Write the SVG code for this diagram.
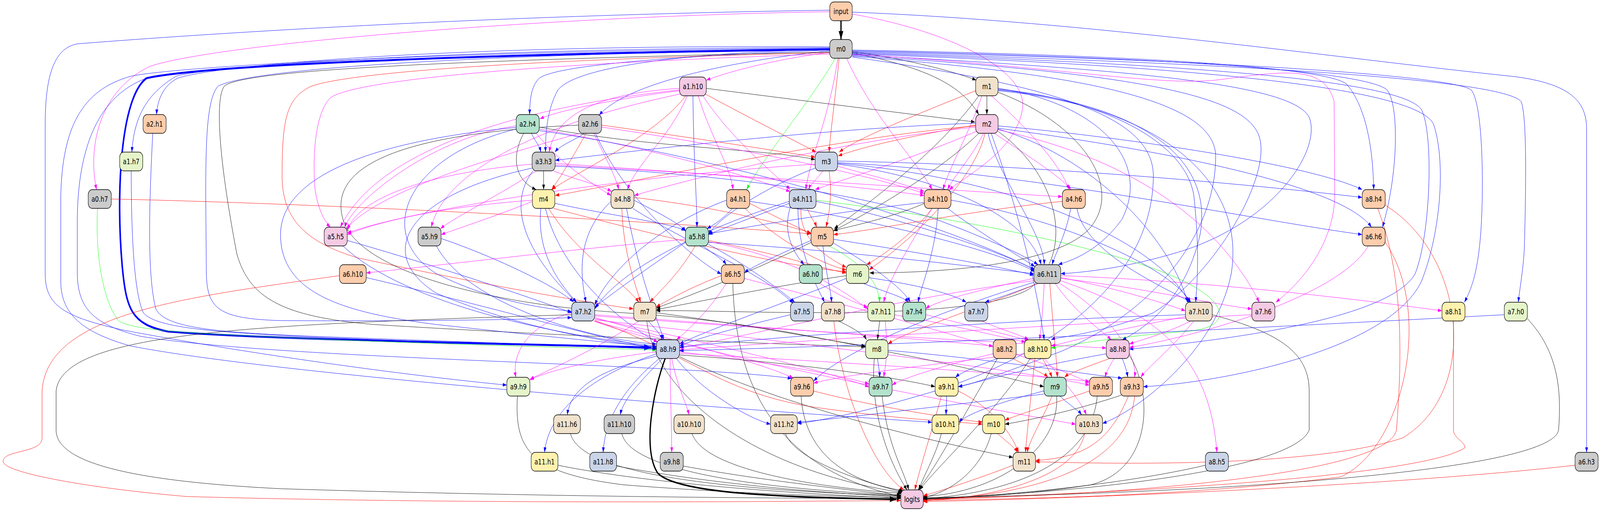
<svg xmlns="http://www.w3.org/2000/svg" width="5133" height="1307" viewBox="0 0 5133 1307" preserveAspectRatio="none">
<style>
svg{width:100%;height:100%}
#edges path{fill:none;stroke-width:1}
#edges .b{stroke:#0000ff;marker-end:url(#mb)}
#edges .r{stroke:#ff0000;marker-end:url(#mr)}
#edges .p{stroke:#ff00ff;marker-end:url(#mp)}
#edges .k{stroke:#000000;marker-end:url(#mk)}
#edges .g{stroke:#00ff00;marker-end:url(#mg)}
#edges .kT{stroke:#000000;stroke-width:4;marker-end:url(#mkT)}
#edges .bT{stroke:#0000ff;stroke-width:5;marker-end:url(#mbT)}
.node rect{stroke:#000;stroke-width:1.3}
.node text{font-family:"DejaVu Sans","Liberation Sans",sans-serif;font-size:18.67px;text-anchor:middle;fill:#000}
.c1{fill:#fdcdac}.c2{fill:#cccccc}.c3{fill:#b3e2cd}.c4{fill:#cbd5e8}.c5{fill:#f4cae4}.c6{fill:#e6f5c9}.c7{fill:#fff2ae}.c8{fill:#f1e2cc}
</style>
<defs>
<marker id="mb" viewBox="0 0 10 7" refX="10" refY="3.5" markerWidth="13" markerHeight="9" markerUnits="userSpaceOnUse" orient="auto"><path d="M0,0L10,3.5L0,7z" fill="#0000ff"/></marker>
<marker id="mr" viewBox="0 0 10 7" refX="10" refY="3.5" markerWidth="13" markerHeight="9" markerUnits="userSpaceOnUse" orient="auto"><path d="M0,0L10,3.5L0,7z" fill="#ff0000"/></marker>
<marker id="mp" viewBox="0 0 10 7" refX="10" refY="3.5" markerWidth="13" markerHeight="9" markerUnits="userSpaceOnUse" orient="auto"><path d="M0,0L10,3.5L0,7z" fill="#ff00ff"/></marker>
<marker id="mk" viewBox="0 0 10 7" refX="10" refY="3.5" markerWidth="13" markerHeight="9" markerUnits="userSpaceOnUse" orient="auto"><path d="M0,0L10,3.5L0,7z" fill="#000000"/></marker>
<marker id="mg" viewBox="0 0 10 7" refX="10" refY="3.5" markerWidth="13" markerHeight="9" markerUnits="userSpaceOnUse" orient="auto"><path d="M0,0L10,3.5L0,7z" fill="#00ff00"/></marker>
<marker id="mkT" viewBox="0 0 10 7" refX="10" refY="3.5" markerWidth="22" markerHeight="15" markerUnits="userSpaceOnUse" orient="auto"><path d="M0,0L10,3.5L0,7z" fill="#000000"/></marker>
<marker id="mbT" viewBox="0 0 10 7" refX="10" refY="3.5" markerWidth="24" markerHeight="17" markerUnits="userSpaceOnUse" orient="auto"><path d="M0,0L10,3.5L0,7z" fill="#0000ff"/></marker>
</defs>
<rect x="0" y="0" width="5133" height="1307" fill="#ffffff"/>
<g id="edges">
<path class="kT" d="M2698 53 L2698 101"/>
<path class="p" d="M2662 30 C1800 40 700 110 480 170 C300 240 285 400 310 485"/>
<path class="b" d="M2662 26 C1500 40 600 90 250 112 C170 122 145 200 145 320 L145 700 C145 780 200 810 400 845 C800 905 1300 960 1626 985"/>
<path class="p" d="M2734 36 C3050 80 3300 180 3280 280 C3260 380 3120 440 3045 485"/>
<path class="b" d="M2734 31 C3500 55 4300 150 4860 196 C5040 215 5090 260 5090 330 L5090 1157"/>
<path class="k" d="M2734 132 C2900 150 3050 180 3132 205"/>
<path class="k" d="M2734 135 C2950 170 3080 210 3140 293"/>
<path class="p" d="M2662 134 C2500 150 2350 180 2266 205"/>
<path class="b" d="M2662 128 C2300 140 1800 160 1730 200 C1705 220 1700 250 1699 293"/>
<path class="b" d="M2662 130 C2300 160 2000 220 1922 295"/>
<path class="b" d="M2662 126 C2200 135 1850 170 1790 230 C1755 280 1750 340 1750 389"/>
<path class="r" d="M2692 149 C2680 250 2665 330 2660 389"/>
<path class="p" d="M2688 149 C2660 300 2600 400 2585 485"/>
<path class="p" d="M2716 149 C2800 300 2950 420 2990 485"/>
<path class="g" d="M2680 149 C2600 260 2450 400 2395 485"/>
<path class="b" d="M2662 120 C1500 112 700 165 570 200 C520 220 505 260 502 293"/>
<path class="b" d="M2662 122 C1500 122 660 170 565 195 C470 240 430 300 423 389"/>
<path class="bT" d="M2662 126 C1800 135 700 160 470 200 C385 250 372 500 392 680 C405 790 420 830 540 848 C900 870 1700 880 2090 889"/>
<path class="b" d="M2662 124 C1500 128 560 170 420 195 C260 230 200 330 195 500 L195 720 C195 800 260 850 420 885 C900 960 2400 1050 2990 1080"/>
<path class="b" d="M2662 126 C1500 132 600 175 470 200 C300 250 250 400 248 560 L248 700 C250 790 300 830 450 860 C900 920 2200 930 2540 968"/>
<path class="b" d="M2662 127 C1400 140 800 180 700 220 C665 250 660 350 660 500 L662 700 C665 790 700 815 900 820 C1300 822 1700 818 1834 812"/>
<path class="k" d="M2662 133 C1400 155 780 180 720 220 C690 250 700 400 760 650 C800 760 900 810 1200 830 C1800 860 2500 880 2776 887"/>
<path class="r" d="M2662 135 C1800 150 1150 180 1000 220 C920 250 905 300 905 450 C905 560 980 620 1150 660 C1500 720 1850 770 2032 790"/>
<path class="p" d="M2662 138 C1800 160 1150 200 1060 250 C1010 290 1003 400 1010 480 C1020 540 1045 570 1060 581"/>
<path class="b" d="M2734 128 C3600 140 4250 170 4320 215 C4390 280 4405 400 4407 485"/>
<path class="b" d="M2734 130 C3700 145 4380 180 4450 230 C4490 270 4485 450 4435 581"/>
<path class="b" d="M2734 132 C3800 150 4650 190 4720 230 C4760 270 4760 500 4750 600 C4740 700 4720 740 4698 773"/>
<path class="b" d="M2734 134 C3900 160 4820 200 4880 260 C4900 300 4895 500 4890 640 C4885 700 4875 740 4871 773"/>
<path class="b" d="M2734 136 C3900 165 4500 210 4560 280 C4600 340 4590 600 4540 700 C4450 830 3800 880 3623 893"/>
<path class="b" d="M2734 138 C3900 170 4560 230 4600 320 C4640 420 4620 600 4560 720 C4450 900 3900 980 3668 989"/>
<path class="b" d="M2734 140 C3700 180 4150 220 4200 300 C4240 380 4100 560 3800 640 C3600 690 3450 698 3403 700"/>
<path class="b" d="M2734 142 C3700 190 4000 250 4040 350 C4080 450 3900 700 3700 800 C3500 860 3400 860 3372 869"/>
<path class="b" d="M2734 144 C3500 190 3900 260 3900 400 C3900 600 3700 800 3400 900 C3200 960 3110 985 3074 989"/>
<path class="b" d="M2734 146 C3400 220 3700 300 3700 450 C3700 700 3400 900 3000 1000 C2750 1060 2600 1080 2558 1083"/>
<path class="p" d="M2734 139 C3400 170 3700 220 3900 205 C4100 185 4250 160 4280 260 L4282 500 C4280 620 4180 720 4093 773"/>
<path class="k" d="M2266 226 C2600 260 2900 290 3128 312"/>
<path class="p" d="M2180 232 C2000 250 1800 280 1732 304"/>
<path class="p" d="M2180 226 C1900 240 1780 300 1762 389"/>
<path class="r" d="M2262 240 C2400 300 2550 360 2618 389"/>
<path class="r" d="M2200 245 C2100 350 1850 440 1770 485"/>
<path class="p" d="M2205 245 C2150 350 2040 420 2013 485"/>
<path class="p" d="M2240 245 C2280 350 2340 420 2352 485"/>
<path class="p" d="M2255 245 C2350 360 2480 440 2535 485"/>
<path class="b" d="M2223 245 C2225 400 2235 500 2236 581"/>
<path class="p" d="M2180 230 C1600 280 1200 400 1092 581"/>
<path class="p" d="M2185 240 C1700 320 1420 450 1384 581"/>
<path class="k" d="M3166 245 L3166 293"/>
<path class="r" d="M3130 232 C2950 290 2760 350 2692 389"/>
<path class="p" d="M3150 245 C3110 340 3050 420 3025 485"/>
<path class="p" d="M3180 245 C3300 330 3400 420 3430 485"/>
<path class="k" d="M3140 245 C3000 400 2750 540 2676 585"/>
<path class="k" d="M3202 236 C3480 320 3600 480 3500 580 C3400 680 3000 698 2790 698"/>
<path class="b" d="M3202 226 C3500 260 3700 400 3600 560 C3520 650 3420 670 3395 677"/>
<path class="b" d="M3202 228 C3500 250 3800 350 3830 500 C3850 650 3840 720 3836 773"/>
<path class="b" d="M3202 230 C3600 260 3900 380 3850 600 C3800 780 3650 850 3600 869"/>
<path class="b" d="M3202 232 C3700 270 4000 450 3950 700 C3900 900 3650 1050 3537 1083"/>
<path class="r" d="M3130 320 C2900 350 2750 380 2689 399"/>
<path class="b" d="M3130 315 C2600 330 2000 390 1781 410"/>
<path class="r" d="M3130 322 C2700 350 2000 470 1781 500"/>
<path class="p" d="M3130 325 C2700 360 2200 460 2035 500"/>
<path class="p" d="M3135 335 C2950 400 2700 460 2615 485"/>
<path class="p" d="M3155 341 C3120 400 3060 450 3040 485"/>
<path class="p" d="M3190 341 C3300 400 3400 450 3436 485"/>
<path class="k" d="M3140 341 C3000 450 2750 560 2674 590"/>
<path class="r" d="M3160 341 C3130 450 2950 600 2788 690"/>
<path class="b" d="M3170 341 C3200 450 3350 600 3350 677"/>
<path class="b" d="M3202 322 C3600 350 4200 420 4370 485"/>
<path class="b" d="M3202 328 C3700 380 4300 470 4400 581"/>
<path class="b" d="M3202 330 C3500 400 3750 600 3810 773"/>
<path class="p" d="M3202 332 C3600 400 3900 550 4040 773"/>
<path class="b" d="M3180 341 C3250 500 3320 700 3350 869"/>
<path class="k" d="M3202 336 C3400 450 3450 650 3300 740 C3100 830 2300 790 2105 795"/>
<path class="b" d="M490 341 C480 500 470 700 500 790 C530 840 700 850 1000 860 C1500 875 1900 885 2106 893"/>
<path class="b" d="M421 437 C421 600 430 750 460 800 C500 840 700 850 1000 862 C1500 878 1900 887 2106 891"/>
<path class="g" d="M313 533 C305 650 330 770 380 820 C430 850 700 855 1100 870 C1600 885 1900 890 2106 895"/>
<path class="r" d="M357 509 C1000 520 2000 560 2602 598"/>
<path class="b" d="M1705 341 C1715 360 1730 370 1735 389"/>
<path class="k" d="M1730 325 C2100 380 2450 380 2615 408"/>
<path class="k" d="M1680 341 C1640 400 1650 460 1720 485"/>
<path class="p" d="M1720 341 C1800 420 1900 470 1960 500"/>
<path class="p" d="M1730 330 C2100 380 2400 450 2535 490"/>
<path class="p" d="M1656 322 C1400 350 1150 500 1105 581"/>
<path class="b" d="M1730 334 C2300 400 3000 560 3320 690"/>
<path class="b" d="M1656 330 C1300 400 1200 600 1400 700 C1600 780 1780 790 1834 797"/>
<path class="b" d="M1656 326 C1200 360 900 450 900 600 C900 750 1100 800 1400 830 C1800 865 2000 880 2106 887"/>
<path class="b" d="M1875 341 C1840 360 1800 370 1780 389"/>
<path class="r" d="M1930 320 C2200 350 2450 380 2615 402"/>
<path class="r" d="M1880 341 C1840 400 1800 450 1770 485"/>
<path class="p" d="M1905 341 C1940 400 1975 450 1985 485"/>
<path class="p" d="M1930 325 C2400 380 2800 450 2965 495"/>
<path class="p" d="M1860 341 C1500 420 1200 500 1112 585"/>
<path class="b" d="M1910 341 C2000 500 2200 650 2314 701"/>
<path class="k" d="M1856 320 C1300 340 1050 420 1100 560 C1150 700 1600 780 2000 800 C2400 820 2650 870 2777 887"/>
<path class="k" d="M1744 437 L1744 485"/>
<path class="p" d="M1775 437 C1850 460 1930 475 1962 490"/>
<path class="p" d="M1781 418 C2200 440 2700 470 2965 500"/>
<path class="p" d="M1781 422 C2400 450 3100 490 3408 503"/>
<path class="p" d="M1707 420 C1400 440 1150 500 1114 590"/>
<path class="p" d="M1720 437 C1600 500 1450 560 1413 585"/>
<path class="b" d="M1710 437 C1600 550 1750 700 1850 773"/>
<path class="b" d="M1707 430 C1300 500 1200 650 1400 750 C1700 850 2000 880 2106 889"/>
<path class="b" d="M1781 425 C2200 440 2700 480 3000 560 C3200 620 3300 660 3330 677"/>
<path class="p" d="M2640 437 C2620 460 2600 470 2595 485"/>
<path class="p" d="M2687 425 C2800 450 2900 470 2965 490"/>
<path class="p" d="M2615 420 C2000 450 1300 540 1114 596"/>
<path class="b" d="M2615 430 C2450 480 2300 560 2273 600"/>
<path class="r" d="M2660 437 C2670 500 2660 550 2650 581"/>
<path class="b" d="M2687 420 C3000 450 3300 550 3340 677"/>
<path class="b" d="M2687 412 C3300 420 4000 470 4370 505"/>
<path class="b" d="M2687 416 C3300 440 4000 560 4370 600"/>
<path class="b" d="M2687 418 C3200 450 3700 600 3815 773"/>
<path class="p" d="M1708 515 C1600 550 1450 590 1415 600"/>
<path class="b" d="M1780 520 C1950 550 2150 570 2199 590"/>
<path class="r" d="M1775 533 C2100 600 2500 680 2715 695"/>
<path class="b" d="M1735 533 C1720 650 1800 730 1850 773"/>
<path class="r" d="M1760 533 C1850 650 2000 720 2050 773"/>
<path class="b" d="M1750 533 C1800 700 2000 830 2110 875"/>
<path class="p" d="M1708 512 C1400 530 1200 570 1114 600"/>
<path class="b" d="M2034 512 C2100 540 2180 570 2200 592"/>
<path class="r" d="M2034 505 C2300 530 2500 570 2602 596"/>
<path class="r" d="M1995 533 C2000 650 2040 730 2055 773"/>
<path class="b" d="M1960 515 C1850 600 1860 700 1880 773"/>
<path class="b" d="M2030 533 C2200 620 2450 700 2545 776"/>
<path class="b" d="M2010 533 C2050 700 2100 800 2130 869"/>
<path class="b" d="M2350 533 C2320 560 2290 575 2268 585"/>
<path class="r" d="M2405 520 C2500 560 2570 585 2602 598"/>
<path class="r" d="M2390 533 C2500 620 2650 680 2715 690"/>
<path class="b" d="M2405 515 C2800 560 3200 640 3320 695"/>
<path class="b" d="M2331 512 C2100 580 1950 700 1908 780"/>
<path class="r" d="M2590 533 C2600 555 2615 570 2620 581"/>
<path class="b" d="M2540 520 C2500 600 2560 660 2580 677"/>
<path class="b" d="M2532 520 C2400 560 2300 590 2273 600"/>
<path class="b" d="M2618 515 C2900 560 3200 640 3320 690"/>
<path class="r" d="M2570 533 C2560 620 2680 670 2715 684"/>
<path class="b" d="M2532 515 C2200 600 1980 700 1908 790"/>
<path class="b" d="M2560 533 C2560 650 2620 730 2645 773"/>
<path class="g" d="M2618 512 C3100 560 3600 640 3800 720 C3950 780 3950 840 3800 848 C3600 860 3450 880 3372 890"/>
<path class="b" d="M2965 518 C2700 540 2400 580 2273 598"/>
<path class="k" d="M2966 520 C2850 560 2720 580 2674 590"/>
<path class="r" d="M2990 533 C2930 600 2820 660 2780 677"/>
<path class="b" d="M3040 533 C3150 600 3280 660 3320 682"/>
<path class="p" d="M2990 533 C2900 650 2850 720 2835 773"/>
<path class="b" d="M3010 533 C3000 650 2960 720 2945 773"/>
<path class="b" d="M3051 512 C3400 560 3750 680 3820 773"/>
<path class="r" d="M3408 515 C3100 540 2800 590 2674 600"/>
<path class="b" d="M3435 533 C3420 600 3385 650 3375 677"/>
<path class="b" d="M3455 533 C3480 650 3750 740 3820 773"/>
<path class="r" d="M4444 525 C4700 650 4750 1000 4500 1120 C4200 1200 3500 1185 3322 1181"/>
<path class="r" d="M4420 533 C4500 700 4500 900 4480 1100 C4450 1220 3500 1270 2962 1277"/>
<path class="b" d="M1114 615 C1400 680 1700 760 1834 800"/>
<path class="b" d="M1100 629 C1300 780 1800 860 2106 885"/>
<path class="b" d="M1415 610 C1600 660 1800 740 1840 773"/>
<path class="b" d="M1400 629 C1500 780 1900 870 2106 880"/>
<path class="b" d="M2255 629 C2290 650 2320 665 2330 677"/>
<path class="p" d="M2199 612 C1800 640 1400 680 1175 698"/>
<path class="r" d="M2273 615 C2500 650 2650 690 2715 698"/>
<path class="b" d="M2273 620 C2700 640 3100 680 3317 700"/>
<path class="b" d="M2199 620 C2050 700 1950 760 1908 785"/>
<path class="r" d="M2230 629 C2180 700 2110 750 2085 773"/>
<path class="b" d="M2273 625 C2400 680 2500 740 2550 773"/>
<path class="p" d="M2273 618 C2550 660 2700 740 2784 790"/>
<path class="b" d="M2602 615 C2500 650 2420 680 2388 697"/>
<path class="b" d="M2674 612 C2900 640 3200 680 3317 704"/>
<path class="k" d="M2602 620 C2400 700 2200 760 2105 788"/>
<path class="g" d="M2660 629 C2780 680 2820 730 2822 773"/>
<path class="b" d="M2674 622 C2800 680 2900 740 2920 773"/>
<path class="b" d="M2640 629 C2650 700 2665 740 2668 773"/>
<path class="r" d="M4444 620 C4600 800 4500 1150 4300 1220 C3800 1270 3300 1275 2962 1280"/>
<path class="p" d="M4390 629 C4300 750 3900 850 3623 889"/>
<path class="b" d="M1175 710 C1500 770 1900 860 2106 893"/>
<path class="r" d="M1089 705 C600 760 150 800 135 1000 L135 1120 C135 1160 10 1150 10 1180 C10 1210 300 1250 600 1270 C1500 1290 2500 1283 2890 1280"/>
<path class="r" d="M2314 705 C2200 740 2140 770 2105 785"/>
<path class="p" d="M2330 725 C2270 800 2200 850 2170 869"/>
<path class="p" d="M2388 712 C2800 800 3300 900 3495 980"/>
<path class="k" d="M2351 725 C2360 1000 2500 1200 2890 1270"/>
<path class="p" d="M2630 725 C2700 760 2760 780 2784 785"/>
<path class="k" d="M2715 705 C2500 730 2250 770 2105 792"/>
<path class="b" d="M2770 725 C2850 750 2900 760 2915 773"/>
<path class="b" d="M2787 710 C2950 730 3050 750 3100 773"/>
<path class="b" d="M2715 712 C2500 780 2250 850 2180 880"/>
<path class="p" d="M3317 712 C3150 740 3000 770 2970 790"/>
<path class="b" d="M3330 725 C3250 750 3190 765 3160 773"/>
<path class="p" d="M3403 710 C3600 740 3750 780 3803 795"/>
<path class="p" d="M3403 712 C3700 740 3900 780 4016 790"/>
<path class="p" d="M3403 705 C3900 720 4400 770 4626 795"/>
<path class="p" d="M3317 718 C2900 760 2400 860 2180 890"/>
<path class="r" d="M3330 725 C3100 800 2900 850 2849 880"/>
<path class="p" d="M3350 725 C3345 800 3340 840 3335 869"/>
<path class="p" d="M3385 725 C3450 800 3540 850 3565 869"/>
<path class="r" d="M3368 725 C3380 850 3390 920 3392 965"/>
<path class="b" d="M3317 722 C3000 800 2700 900 2610 975"/>
<path class="p" d="M3400 725 C3550 800 3650 900 3640 965"/>
<path class="p" d="M3403 718 C3700 800 3880 900 3904 1157"/>
<path class="p" d="M1905 821 C2000 850 2080 860 2110 875"/>
<path class="p" d="M1908 805 C2500 840 3000 870 3186 885"/>
<path class="p" d="M1908 808 C2600 850 3300 880 3549 890"/>
<path class="p" d="M1834 800 C1700 830 1640 900 1655 965"/>
<path class="p" d="M1908 812 C2200 880 2450 930 2545 967"/>
<path class="p" d="M1908 815 C2300 880 2700 960 2788 990"/>
<path class="p" d="M1908 818 C2600 880 3300 950 3495 985"/>
<path class="p" d="M1908 822 C2500 950 3200 1050 3451 1085"/>
<path class="r" d="M1908 820 C2200 900 2300 1000 2600 1040 C2900 1075 3100 1080 3152 1085"/>
<path class="k" d="M1834 805 C800 830 200 850 180 1000 L180 1100 C180 1180 400 1230 900 1250 C1700 1270 2500 1275 2890 1275"/>
<path class="b" d="M2080 821 C2100 840 2120 855 2125 869"/>
<path class="k" d="M2105 800 C2400 830 2650 870 2777 885"/>
<path class="p" d="M2050 821 C1900 900 1750 950 1700 970"/>
<path class="k" d="M2075 821 C2100 1000 2400 1200 2895 1260"/>
<path class="b" d="M2536 805 C2350 840 2220 870 2180 885"/>
<path class="k" d="M2690 821 C2740 840 2770 855 2780 869"/>
<path class="r" d="M2675 821 C2700 1000 2800 1200 2900 1253"/>
<path class="k" d="M2822 821 L2815 869"/>
<path class="p" d="M2870 805 C3050 830 3200 860 3290 875"/>
<path class="p" d="M2840 821 C2850 900 2840 940 2835 965"/>
<path class="p" d="M2970 805 C3100 830 3250 860 3300 871"/>
<path class="p" d="M3150 821 C3200 840 3270 855 3300 869"/>
<path class="b" d="M3803 805 C3200 820 2500 860 2180 888"/>
<path class="p" d="M3803 810 C3600 840 3450 870 3372 885"/>
<path class="p" d="M3820 821 C3750 850 3660 870 3623 880"/>
<path class="p" d="M3830 821 C3750 900 3680 940 3660 965"/>
<path class="k" d="M3889 805 C4100 850 4200 900 4200 1000 L4200 1100 C4150 1200 3500 1260 2962 1275"/>
<path class="p" d="M4016 805 C3400 830 2600 870 2180 895"/>
<path class="r" d="M4663 821 L4663 1100 C4663 1120 4700 1130 4700 1145 C4600 1200 4000 1250 2962 1277"/>
<path class="b" d="M4826 805 C4000 840 3000 880 2180 897"/>
<path class="k" d="M4900 815 C5000 900 5010 1000 5000 1100 C4980 1200 4000 1260 2962 1273"/>
<path class="kT" d="M2134 917 C2095 1000 2060 1150 2110 1210 C2170 1262 2500 1272 2876 1277"/>
<path class="p" d="M2106 900 C1900 920 1750 950 1700 972"/>
<path class="p" d="M2180 900 C2500 930 2700 960 2788 982"/>
<path class="p" d="M2180 904 C2800 930 3300 960 3495 975"/>
<path class="k" d="M2180 908 C2600 930 2900 970 3000 989"/>
<path class="b" d="M2110 910 C1900 950 1830 1000 1820 1061"/>
<path class="b" d="M2125 917 C2050 980 2000 1020 1990 1061"/>
<path class="p" d="M2155 917 C2170 980 2200 1030 2211 1061"/>
<path class="b" d="M2170 917 C2250 1000 2400 1070 2472 1085"/>
<path class="b" d="M2106 905 C1900 960 1760 1050 1747 1157"/>
<path class="b" d="M2115 917 C1990 1000 1940 1080 1935 1157"/>
<path class="p" d="M2150 917 C2150 1000 2155 1100 2155 1157"/>
<path class="k" d="M2180 912 C2400 1000 2800 1100 3250 1170"/>
<path class="b" d="M2815 917 C2818 935 2822 950 2822 965"/>
<path class="k" d="M2849 900 C3050 930 3250 970 3349 989"/>
<path class="b" d="M2849 896 C3200 920 3500 960 3600 967"/>
<path class="k" d="M2805 917 C2790 1050 2850 1180 2910 1253"/>
<path class="r" d="M3250 917 C3300 940 3350 955 3362 965"/>
<path class="b" d="M3200 917 C3120 940 3080 955 3065 965"/>
<path class="p" d="M3186 905 C3050 930 2900 965 2862 985"/>
<path class="k" d="M3200 917 C3100 1050 3000 1200 2945 1253"/>
<path class="r" d="M3345 917 C3360 940 3370 955 3375 965"/>
<path class="p" d="M3350 917 C3420 980 3470 1030 3485 1061"/>
<path class="r" d="M3320 917 C3310 1000 3295 1100 3290 1157"/>
<path class="k" d="M3305 917 C3200 1050 3000 1200 2950 1253"/>
<path class="p" d="M3286 905 C3000 930 2700 960 2610 980"/>
<path class="r" d="M3560 917 C3480 940 3430 955 3415 965"/>
<path class="p" d="M3575 917 C3560 935 3550 950 3545 965"/>
<path class="b" d="M3600 917 C3610 935 3615 950 3618 965"/>
<path class="b" d="M3549 905 C3300 940 3150 975 3074 989"/>
<path class="k" d="M3620 905 C3700 1000 3700 1200 3500 1240 C3300 1265 3100 1272 2962 1277"/>
<path class="k" d="M1660 1013 C1650 1150 1700 1210 2000 1240 C2400 1265 2700 1270 2890 1272"/>
<path class="r" d="M2610 1000 C2800 1040 3050 1070 3152 1080"/>
<path class="k" d="M2570 1013 C2580 1150 2700 1230 2898 1255"/>
<path class="k" d="M2830 1013 C2850 1150 2900 1200 2915 1253"/>
<path class="b" d="M3037 1013 L3035 1061"/>
<path class="r" d="M3074 1000 C3200 1050 3250 1120 3268 1157"/>
<path class="r" d="M3020 1013 C2990 1100 2950 1200 2935 1253"/>
<path class="b" d="M3349 1000 C3200 1030 3100 1060 3076 1080"/>
<path class="b" d="M3400 1013 C3430 1035 3460 1050 3470 1061"/>
<path class="r" d="M3375 1013 C3340 1080 3300 1130 3296 1157"/>
<path class="b" d="M3349 1008 C3000 1040 2700 1070 2558 1080"/>
<path class="k" d="M3390 1013 C3400 1150 3200 1260 2962 1270"/>
<path class="r" d="M3495 1000 C3350 1040 3250 1065 3224 1075"/>
<path class="k" d="M3520 1013 C3500 1200 3200 1265 2962 1275"/>
<path class="k" d="M3600 1010 C3450 1050 3300 1075 3224 1085"/>
<path class="r" d="M3620 1013 C3550 1150 3450 1170 3322 1178"/>
<path class="r" d="M3640 1013 C3620 1200 3300 1268 2962 1279"/>
<path class="k" d="M1830 1109 C1860 1200 2200 1250 2890 1268"/>
<path class="k" d="M1995 1109 C2020 1200 2400 1250 2890 1266"/>
<path class="k" d="M2220 1109 C2260 1200 2600 1245 2893 1262"/>
<path class="k" d="M2520 1109 C2550 1180 2800 1240 2895 1258"/>
<path class="k" d="M3020 1109 C3000 1170 2960 1220 2948 1253"/>
<path class="r" d="M3200 1109 C3230 1130 3255 1145 3265 1157"/>
<path class="k" d="M3180 1109 C3150 1200 3050 1260 2962 1272"/>
<path class="r" d="M3480 1109 C3450 1220 3200 1272 2962 1281"/>
<path class="k" d="M1790 1190 C2100 1240 2600 1265 2890 1274"/>
<path class="k" d="M1978 1192 C2300 1240 2650 1262 2890 1270"/>
<path class="k" d="M2192 1192 C2450 1230 2750 1255 2890 1268"/>
<path class="r" d="M3250 1190 C3120 1230 3000 1260 2962 1268"/>
<path class="k" d="M3867 1190 C3600 1240 3200 1270 2962 1276"/>
<path class="r" d="M5053 1190 C4500 1240 3500 1275 2962 1283"/>
</g>
<g id="nodes">
<g id="n-input" class="node"><rect class="c1" x="2662" y="5" width="72" height="48" rx="13"/><text x="2698" y="36">input</text></g>
<g id="n-m0" class="node"><rect class="c2" x="2662" y="101" width="72" height="48" rx="13"/><text x="2698" y="132">m0</text></g>
<g id="n-a1.h10" class="node"><rect class="c5" x="2180" y="197" width="86" height="48" rx="13"/><text x="2223" y="228">a1.h10</text></g>
<g id="n-m1" class="node"><rect class="c8" x="3130" y="197" width="72" height="48" rx="13"/><text x="3166" y="228">m1</text></g>
<g id="n-a2.h1" class="node"><rect class="c1" x="459" y="293" width="74" height="48" rx="13"/><text x="496" y="324">a2.h1</text></g>
<g id="n-a2.h4" class="node"><rect class="c3" x="1656" y="293" width="74" height="48" rx="13"/><text x="1693" y="324">a2.h4</text></g>
<g id="n-a2.h6" class="node"><rect class="c2" x="1856" y="293" width="74" height="48" rx="13"/><text x="1893" y="324">a2.h6</text></g>
<g id="n-m2" class="node"><rect class="c5" x="3130" y="293" width="72" height="48" rx="13"/><text x="3166" y="324">m2</text></g>
<g id="n-a1.h7" class="node"><rect class="c6" x="384" y="389" width="74" height="48" rx="13"/><text x="421" y="420">a1.h7</text></g>
<g id="n-a3.h3" class="node"><rect class="c2" x="1707" y="389" width="74" height="48" rx="13"/><text x="1744" y="420">a3.h3</text></g>
<g id="n-m3" class="node"><rect class="c4" x="2615" y="389" width="72" height="48" rx="13"/><text x="2651" y="420">m3</text></g>
<g id="n-a0.h7" class="node"><rect class="c2" x="283" y="485" width="74" height="48" rx="13"/><text x="320" y="516">a0.h7</text></g>
<g id="n-m4" class="node"><rect class="c7" x="1708" y="485" width="72" height="48" rx="13"/><text x="1744" y="516">m4</text></g>
<g id="n-a4.h8" class="node"><rect class="c8" x="1960" y="485" width="74" height="48" rx="13"/><text x="1997" y="516">a4.h8</text></g>
<g id="n-a4.h1" class="node"><rect class="c1" x="2331" y="485" width="74" height="48" rx="13"/><text x="2368" y="516">a4.h1</text></g>
<g id="n-a4.h11" class="node"><rect class="c4" x="2532" y="485" width="86" height="48" rx="13"/><text x="2575" y="516">a4.h11</text></g>
<g id="n-a4.h10" class="node"><rect class="c1" x="2965" y="485" width="86" height="48" rx="13"/><text x="3008" y="516">a4.h10</text></g>
<g id="n-a4.h6" class="node"><rect class="c1" x="3408" y="485" width="74" height="48" rx="13"/><text x="3445" y="516">a4.h6</text></g>
<g id="n-a8.h4" class="node"><rect class="c1" x="4370" y="485" width="74" height="48" rx="13"/><text x="4407" y="516">a8.h4</text></g>
<g id="n-a5.h5" class="node"><rect class="c5" x="1040" y="581" width="74" height="48" rx="13"/><text x="1077" y="612">a5.h5</text></g>
<g id="n-a5.h9" class="node"><rect class="c2" x="1341" y="581" width="74" height="48" rx="13"/><text x="1378" y="612">a5.h9</text></g>
<g id="n-a5.h8" class="node"><rect class="c3" x="2199" y="581" width="74" height="48" rx="13"/><text x="2236" y="612">a5.h8</text></g>
<g id="n-m5" class="node"><rect class="c1" x="2602" y="581" width="72" height="48" rx="13"/><text x="2638" y="612">m5</text></g>
<g id="n-a6.h6" class="node"><rect class="c1" x="4370" y="581" width="74" height="48" rx="13"/><text x="4407" y="612">a6.h6</text></g>
<g id="n-a6.h10" class="node"><rect class="c1" x="1089" y="677" width="86" height="48" rx="13"/><text x="1132" y="708">a6.h10</text></g>
<g id="n-a6.h5" class="node"><rect class="c1" x="2314" y="677" width="74" height="48" rx="13"/><text x="2351" y="708">a6.h5</text></g>
<g id="n-a6.h0" class="node"><rect class="c3" x="2564" y="677" width="74" height="48" rx="13"/><text x="2601" y="708">a6.h0</text></g>
<g id="n-m6" class="node"><rect class="c6" x="2715" y="677" width="72" height="48" rx="13"/><text x="2751" y="708">m6</text></g>
<g id="n-a6.h11" class="node"><rect class="c2" x="3317" y="677" width="86" height="48" rx="13"/><text x="3360" y="708">a6.h11</text></g>
<g id="n-a7.h2" class="node"><rect class="c4" x="1834" y="773" width="74" height="48" rx="13"/><text x="1871" y="804">a7.h2</text></g>
<g id="n-m7" class="node"><rect class="c8" x="2033" y="773" width="72" height="48" rx="13"/><text x="2069" y="804">m7</text></g>
<g id="n-a7.h5" class="node"><rect class="c4" x="2536" y="773" width="74" height="48" rx="13"/><text x="2573" y="804">a7.h5</text></g>
<g id="n-a7.h8" class="node"><rect class="c8" x="2635" y="773" width="74" height="48" rx="13"/><text x="2672" y="804">a7.h8</text></g>
<g id="n-a7.h11" class="node"><rect class="c6" x="2784" y="773" width="86" height="48" rx="13"/><text x="2827" y="804">a7.h11</text></g>
<g id="n-a7.h4" class="node"><rect class="c3" x="2896" y="773" width="74" height="48" rx="13"/><text x="2933" y="804">a7.h4</text></g>
<g id="n-a7.h7" class="node"><rect class="c4" x="3095" y="773" width="74" height="48" rx="13"/><text x="3132" y="804">a7.h7</text></g>
<g id="n-a7.h10" class="node"><rect class="c8" x="3803" y="773" width="86" height="48" rx="13"/><text x="3846" y="804">a7.h10</text></g>
<g id="n-a7.h6" class="node"><rect class="c5" x="4016" y="773" width="74" height="48" rx="13"/><text x="4053" y="804">a7.h6</text></g>
<g id="n-a8.h1" class="node"><rect class="c7" x="4626" y="773" width="74" height="48" rx="13"/><text x="4663" y="804">a8.h1</text></g>
<g id="n-a7.h0" class="node"><rect class="c6" x="4826" y="773" width="74" height="48" rx="13"/><text x="4863" y="804">a7.h0</text></g>
<g id="n-a8.h9" class="node"><rect class="c4" x="2106" y="869" width="74" height="48" rx="13"/><text x="2143" y="900">a8.h9</text></g>
<g id="n-m8" class="node"><rect class="c6" x="2777" y="869" width="72" height="48" rx="13"/><text x="2813" y="900">m8</text></g>
<g id="n-a8.h2" class="node"><rect class="c1" x="3186" y="869" width="74" height="48" rx="13"/><text x="3223" y="900">a8.h2</text></g>
<g id="n-a8.h10" class="node"><rect class="c7" x="3286" y="869" width="86" height="48" rx="13"/><text x="3329" y="900">a8.h10</text></g>
<g id="n-a8.h8" class="node"><rect class="c5" x="3549" y="869" width="74" height="48" rx="13"/><text x="3586" y="900">a8.h8</text></g>
<g id="n-a9.h9" class="node"><rect class="c6" x="1626" y="965" width="74" height="48" rx="13"/><text x="1663" y="996">a9.h9</text></g>
<g id="n-a9.h6" class="node"><rect class="c1" x="2536" y="965" width="74" height="48" rx="13"/><text x="2573" y="996">a9.h6</text></g>
<g id="n-a9.h7" class="node"><rect class="c3" x="2788" y="965" width="74" height="48" rx="13"/><text x="2825" y="996">a9.h7</text></g>
<g id="n-a9.h1" class="node"><rect class="c7" x="3000" y="965" width="74" height="48" rx="13"/><text x="3037" y="996">a9.h1</text></g>
<g id="n-m9" class="node"><rect class="c3" x="3349" y="965" width="72" height="48" rx="13"/><text x="3385" y="996">m9</text></g>
<g id="n-a9.h5" class="node"><rect class="c1" x="3495" y="965" width="74" height="48" rx="13"/><text x="3532" y="996">a9.h5</text></g>
<g id="n-a9.h3" class="node"><rect class="c1" x="3594" y="965" width="74" height="48" rx="13"/><text x="3631" y="996">a9.h3</text></g>
<g id="n-a11.h6" class="node"><rect class="c8" x="1776" y="1061" width="86" height="48" rx="13"/><text x="1819" y="1092">a11.h6</text></g>
<g id="n-a11.h10" class="node"><rect class="c2" x="1938" y="1061" width="98" height="48" rx="13"/><text x="1987" y="1092">a11.h10</text></g>
<g id="n-a10.h10" class="node"><rect class="c8" x="2162" y="1061" width="98" height="48" rx="13"/><text x="2211" y="1092">a10.h10</text></g>
<g id="n-a11.h2" class="node"><rect class="c8" x="2472" y="1061" width="86" height="48" rx="13"/><text x="2515" y="1092">a11.h2</text></g>
<g id="n-a10.h1" class="node"><rect class="c7" x="2990" y="1061" width="86" height="48" rx="13"/><text x="3033" y="1092">a10.h1</text></g>
<g id="n-m10" class="node"><rect class="c7" x="3152" y="1061" width="72" height="48" rx="13"/><text x="3188" y="1092">m10</text></g>
<g id="n-a10.h3" class="node"><rect class="c8" x="3451" y="1061" width="86" height="48" rx="13"/><text x="3494" y="1092">a10.h3</text></g>
<g id="n-a11.h1" class="node"><rect class="c7" x="1704" y="1157" width="86" height="48" rx="13"/><text x="1747" y="1188">a11.h1</text></g>
<g id="n-a11.h8" class="node"><rect class="c4" x="1892" y="1157" width="86" height="48" rx="13"/><text x="1935" y="1188">a11.h8</text></g>
<g id="n-a9.h8" class="node"><rect class="c2" x="2118" y="1157" width="74" height="48" rx="13"/><text x="2155" y="1188">a9.h8</text></g>
<g id="n-m11" class="node"><rect class="c8" x="3250" y="1157" width="72" height="48" rx="13"/><text x="3286" y="1188">m11</text></g>
<g id="n-a8.h5" class="node"><rect class="c4" x="3867" y="1157" width="74" height="48" rx="13"/><text x="3904" y="1188">a8.h5</text></g>
<g id="n-a6.h3" class="node"><rect class="c2" x="5053" y="1157" width="74" height="48" rx="13"/><text x="5090" y="1188">a6.h3</text></g>
<g id="n-logits" class="node"><rect class="c5" x="2890" y="1253" width="72" height="48" rx="13"/><text x="2926" y="1284">logits</text></g>
</g>
</svg>
